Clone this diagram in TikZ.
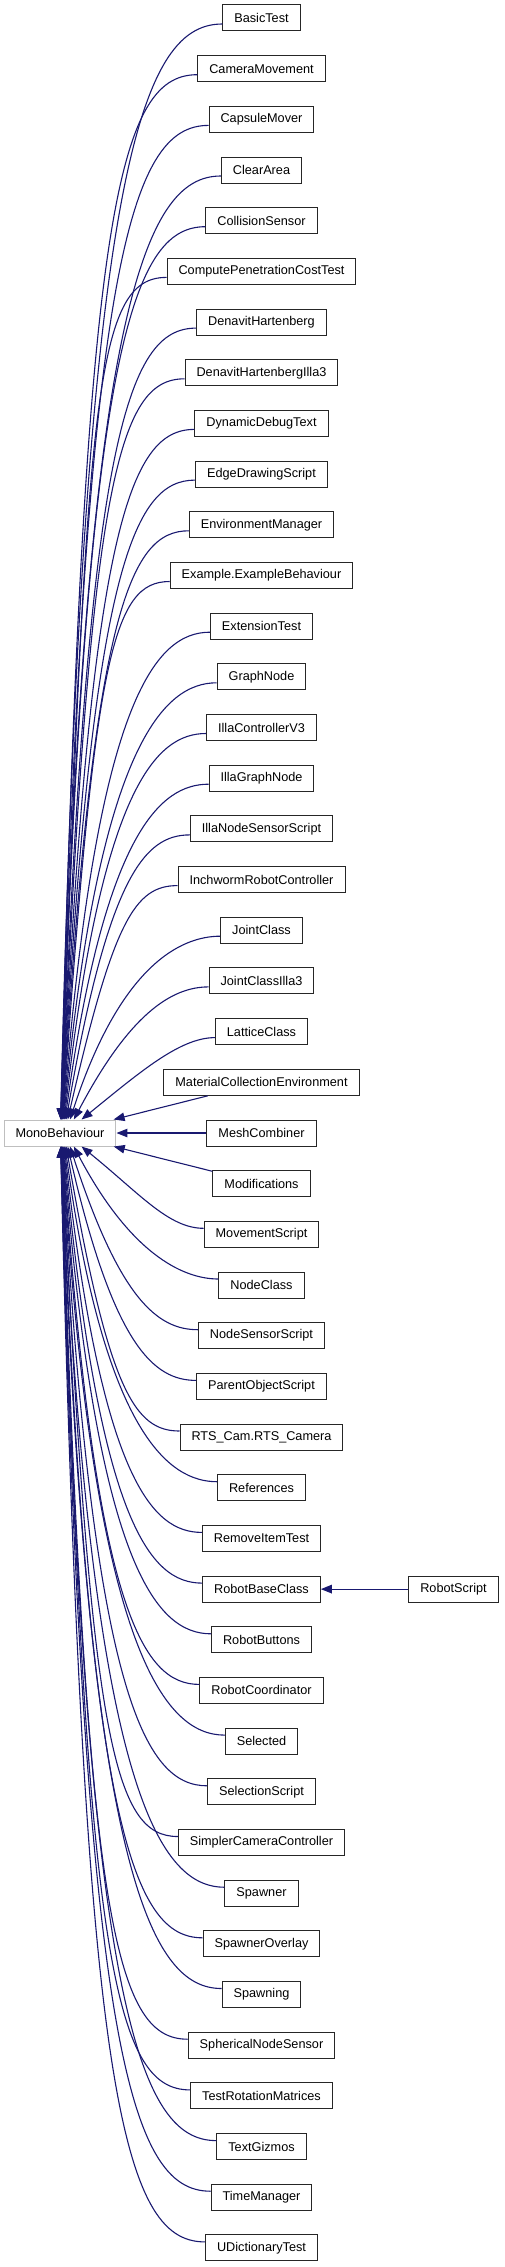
\documentclass[tikz,border=0pt]{standalone}
\usepackage{fontspec}
\setmainfont{Liberation Sans}
\usetikzlibrary{arrows.meta}
\definecolor{mblue}{RGB}{ 25, 25,112}
\definecolor{bgray}{RGB}{191,191,191}
\tikzset{
  % derived class box
  CB/.style={rectangle,draw=black!85,fill=white,line width=1pt,
             minimum height=26pt,inner xsep=11.5pt,inner ysep=0pt,
             font=\fontsize{12.7}{15}\selectfont},
  % base class box, grey frame
  BB/.style={CB,draw=bgray,minimum width=110pt},
  % inheritance arrow
  Inh/.style={-{Triangle[length=11pt,width=8.5pt]},line width=1.1pt,color=mblue},
}
\begin{document}
\begin{tikzpicture}[x=1pt,y=-1pt]
  \useasboundingbox (0,0) rectangle (504,2267);
  \node[BB] at (60,1133) (mono) {MonoBehaviour};
  \node[CB] at (261.5,18)     (c0)  {BasicTest};
  \node[CB] at (261.5,68.7)   (c1)  {CameraMovement};
  \node[CB] at (261.5,119.4)  (c2)  {CapsuleMover};
  \node[CB] at (261.5,170)    (c3)  {ClearArea};
  \node[CB] at (261.5,220.7)  (c4)  {CollisionSensor};
  \node[CB] at (261.5,271.4)  (c5)  {ComputePenetrationCostTest};
  \node[CB] at (261.5,322.1)  (c6)  {DenavitHartenberg};
  \node[CB] at (261.5,372.8)  (c7)  {DenavitHartenbergIlla3};
  \node[CB] at (261.5,423.4)  (c8)  {DynamicDebugText};
  \node[CB] at (261.5,474.1)  (c9)  {EdgeDrawingScript};
  \node[CB] at (261.5,524.8)  (c10) {EnvironmentManager};
  \node[CB] at (261.5,575.5)  (c11) {Example.ExampleBehaviour};
  \node[CB] at (261.5,626.2)  (c12) {ExtensionTest};
  \node[CB] at (261.5,676.8)  (c13) {GraphNode};
  \node[CB] at (261.5,727.5)  (c14) {IllaControllerV3};
  \node[CB] at (261.5,778.2)  (c15) {IllaGraphNode};
  \node[CB] at (261.5,828.9)  (c16) {IllaNodeSensorScript};
  \node[CB] at (261.5,879.6)  (c17) {InchwormRobotController};
  \node[CB] at (261.5,930.2)  (c18) {JointClass};
  \node[CB] at (261.5,980.9)  (c19) {JointClassIlla3};
  \node[CB] at (261.5,1031.6) (c20) {LatticeClass};
  \node[CB] at (261.5,1082.3) (c21) {MaterialCollectionEnvironment};
  \node[CB] at (261.5,1133)   (c22) {MeshCombiner};
  \node[CB] at (261.5,1183.6) (c23) {Modifications};
  \node[CB] at (261.5,1234.3) (c24) {MovementScript};
  \node[CB] at (261.5,1285)   (c25) {NodeClass};
  \node[CB] at (261.5,1335.7) (c26) {NodeSensorScript};
  \node[CB] at (261.5,1386.4) (c27) {ParentObjectScript};
  \node[CB] at (261.5,1437)   (c28) {RTS\_Cam.RTS\_Camera};
  \node[CB] at (261.5,1487.7) (c29) {References};
  \node[CB] at (261.5,1538.4) (c30) {RemoveItemTest};
  \node[CB] at (261.5,1589.1) (c31) {RobotBaseClass};
  \node[CB] at (261.5,1639.8) (c32) {RobotButtons};
  \node[CB] at (261.5,1690.4) (c33) {RobotCoordinator};
  \node[CB] at (261.5,1741.1) (c34) {Selected};
  \node[CB] at (261.5,1791.8) (c35) {SelectionScript};
  \node[CB] at (261.5,1842.5) (c36) {SimplerCameraController};
  \node[CB] at (261.5,1893.2) (c37) {Spawner};
  \node[CB] at (261.5,1943.8) (c38) {SpawnerOverlay};
  \node[CB] at (261.5,1994.5) (c39) {Spawning};
  \node[CB] at (261.5,2045.2) (c40) {SphericalNodeSensor};
  \node[CB] at (261.5,2095.9) (c41) {TestRotationMatrices};
  \node[CB] at (261.5,2146.6) (c42) {TextGizmos};
  \node[CB] at (261.5,2197.2) (c43) {TimeManager};
  \node[CB] at (261.5,2247.9) (c44) {UDictionaryTest};
  \node[CB] at (453.5,1589.1) (rscript) {RobotScript};
  \draw[Inh] (rscript) -- (c31);
  % every child points back to MonoBehaviour
  \foreach \i in {0,...,44} {
    \pgfmathtruncatemacro\kk{\i-22}
    \pgfmathtruncatemacro\ka{abs(\kk)}
    \ifnum\ka<2
      \draw[Inh] (c\i) -- (mono);
    \else
      \pgfmathsetmacro\sg{\kk<0 ? -1 : 1}
      \pgfmathsetmacro\xs{55+46/\ka}
      \pgfmathsetmacro\ang{90-51*(2/\ka)^1.5}
      \pgfmathsetmacro\len{0.85*(\ka*50.68-13)}
      \pgfmathsetmacro\ctl{min(85,30+2.5*\ka)}
      \pgfmathsetmacro\px{\len*cos(\ang)}
      \pgfmathsetmacro\py{\sg*\len*sin(\ang)}
      \pgfmathsetmacro\ys{6*\sg}
      \ifnum\kk<0 \def\side{north}\else\def\side{south}\fi
      \draw[Inh] ([yshift=\ys pt]c\i.west) .. controls +(-\ctl,0) and +(\px,\py)
                 .. ([xshift=\xs pt]mono.\side\space west);
    \fi
  }
\end{tikzpicture}
\end{document}
